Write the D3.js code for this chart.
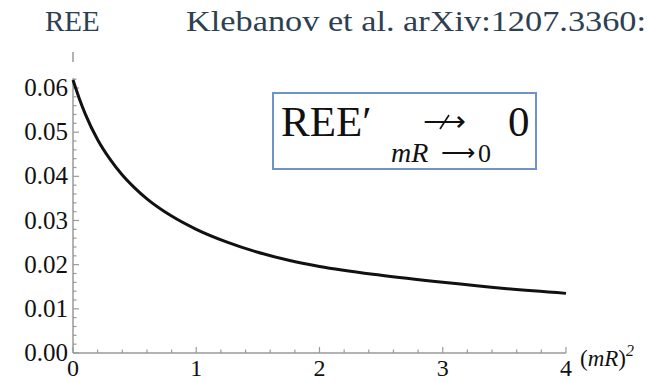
<!DOCTYPE html>
<html>
<head>
<meta charset="utf-8">
<script src="https://cdn.jsdelivr.net/npm/d3@7"></script>
<style>
  body { margin: 0; background: #fff; }
  svg text { font-family: "Liberation Serif", "Times New Roman", serif; }
</style>
</head>
<body>
<div id="chart"></div>
<script>
// values
var mR2 = [0, 0.05, 0.1, 0.2, 0.3, 0.4, 0.5, 0.6, 0.8, 1.0, 1.25, 1.5, 1.75, 2.0, 2.5, 3.0, 3.5, 4.0];
var ree = [0.0618, 0.0577, 0.0541, 0.0483, 0.0439, 0.0403, 0.0374, 0.0349, 0.0310, 0.0280, 0.0251, 0.0228, 0.0210, 0.0196, 0.0176, 0.0160, 0.0146, 0.0135];
var xTicks = [0, 1, 2, 3, 4];
var yTicks = [0, 0.01, 0.02, 0.03, 0.04, 0.05, 0.06];

var width = 651, height = 382;
var svg = d3.select('#chart').append('svg')
            .attr('width', width).attr('height', height);

var x = d3.scaleLinear().domain([0, 4]).range([73, 566]);
var y = d3.scaleLinear().domain([0, 0.06]).range([353, 88]);

var axisCol = '#9a9a9a';
var serif = '"Liberation Serif", serif';

// axes lines
svg.append('line').attr('x1', x(0)).attr('x2', x(4)).attr('y1', y(0)).attr('y2', y(0))
   .attr('stroke', axisCol).attr('stroke-width', 1.5);
svg.append('line').attr('x1', x(0)).attr('x2', x(0)).attr('y1', y(0)).attr('y2', y(0.0622))
   .attr('stroke', axisCol).attr('stroke-width', 1.5);
svg.append('line').attr('x1', x(0)).attr('x2', x(0)).attr('y1', 52).attr('y2', 62)
   .attr('stroke', axisCol).attr('stroke-width', 1.5);

// minor + major ticks (inward)
var xMinor = d3.range(0, 4.001, 0.2);
svg.append('g').selectAll('line').data(xMinor).enter().append('line')
   .attr('x1', function(d){return x(d)}).attr('x2', function(d){return x(d)})
   .attr('y1', y(0)).attr('y2', function(d,i){return y(0) - (i % 5 == 0 ? 6 : 3.5)})
   .attr('stroke', axisCol).attr('stroke-width', 1.2);

var yMinor = d3.range(0, 0.0621, 0.002);
svg.append('g').selectAll('line').data(yMinor).enter().append('line')
   .attr('y1', function(d){return y(d)}).attr('y2', function(d){return y(d)})
   .attr('x1', x(0)).attr('x2', function(d,i){return x(0) + (i % 5 == 0 ? 6 : 3.5)})
   .attr('stroke', axisCol).attr('stroke-width', 1.2);

// tick labels
svg.append('g').selectAll('text').data(xTicks).enter().append('text')
   .attr('x', function(d){return x(d)}).attr('y', 376)
   .attr('text-anchor', 'middle').attr('font-size', 24).attr('font-family', serif).attr('fill', '#111')
   .text(function(d){return d});

svg.append('g').selectAll('text').data(yTicks).enter().append('text')
   .attr('x', 68).attr('y', function(d){return y(d) + 8})
   .attr('text-anchor', 'end').attr('font-size', 25).attr('font-family', serif).attr('fill', '#111')
   .text(function(d){return d3.format('.2f')(d)});

// axis label (mR)^2
var xl = svg.append('text').attr('x', 580).attr('y', 366).attr('font-size', 23).attr('font-family', serif).attr('fill', '#111');
xl.append('tspan').text('(');
xl.append('tspan').attr('font-style', 'italic').text('mR');
xl.append('tspan').text(')');
xl.append('tspan').attr('dy', -10).attr('font-size', 16).attr('font-style', 'italic').text('2');

// curve
var pts = mR2.map(function(d, i){ return [d, ree[i]]; });
var line = d3.line().x(function(d){return x(d[0])}).y(function(d){return y(d[1])})
             .curve(d3.curveMonotoneX);
svg.append('path').datum(pts).attr('d', line)
   .attr('fill', 'none').attr('stroke', '#111').attr('stroke-width', 3);

// titles
svg.append('text').attr('x', 45).attr('y', 31).attr('font-size', 29).attr('font-family', serif)
   .attr('fill', '#2e3f52').text('REE');
svg.append('text').attr('x', 186).attr('y', 31).attr('font-size', 29).attr('font-family', serif)
   .attr('fill', '#2e3f52').attr('textLength', 460).attr('lengthAdjust', 'spacingAndGlyphs')
   .text('Klebanov et al. arXiv:1207.3360:');

// boxed annotation
svg.append('rect').attr('x', 273).attr('y', 93).attr('width', 263).attr('height', 76)
   .attr('fill', 'none').attr('stroke', '#6e93c8').attr('stroke-width', 2);
svg.append('text').attr('x', 281).attr('y', 136).attr('font-size', 43).attr('font-family', serif)
   .attr('fill', '#111').text('REE′');
svg.append('text').attr('x', 508).attr('y', 136).attr('font-size', 43).attr('font-family', serif)
   .attr('fill', '#111').text('0');
// "does not tend to" arrow: long arrow with a slash
svg.append('text').attr('x', 444).attr('y', 131).attr('text-anchor', 'middle').attr('font-size', 30)
   .attr('font-family', '"DejaVu Sans", sans-serif').attr('fill', '#111').text('⟶');
svg.append('line').attr('x1', 440).attr('y1', 129).attr('x2', 449).attr('y2', 115)
   .attr('stroke', '#111').attr('stroke-width', 1.6);
// subscript
svg.append('text').attr('x', 391).attr('y', 162).attr('font-size', 28).attr('font-family', serif)
   .attr('font-style', 'italic').attr('fill', '#111').text('mR');
svg.append('text').attr('x', 458).attr('y', 161).attr('text-anchor', 'middle').attr('font-size', 24)
   .attr('font-family', '"DejaVu Sans", sans-serif').attr('fill', '#111').text('⟶');
svg.append('text').attr('x', 478).attr('y', 162).attr('font-size', 26).attr('font-family', serif)
   .attr('fill', '#111').text('0');
</script>
</body>
</html>
